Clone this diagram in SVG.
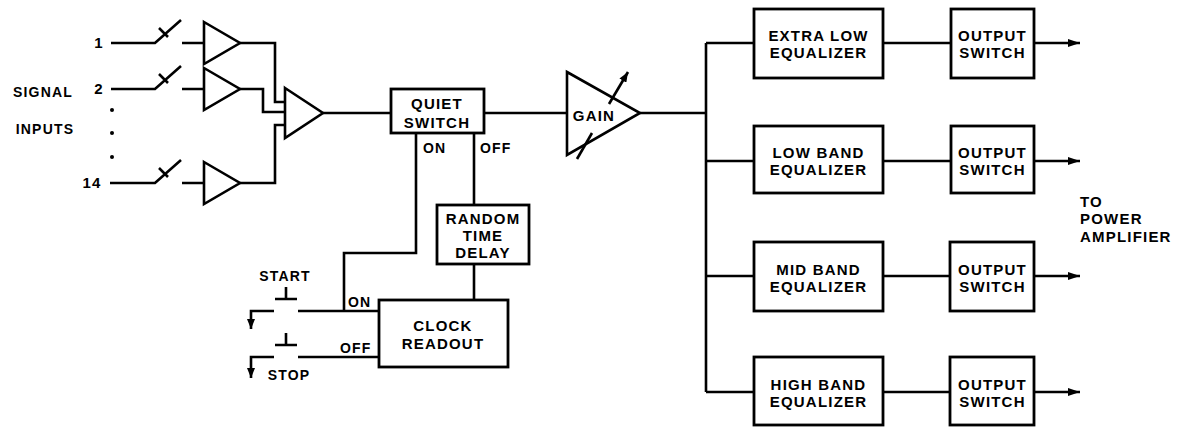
<svg xmlns="http://www.w3.org/2000/svg" width="1192" height="428" viewBox="0 0 1192 428">
<style>
.ln{fill:none;stroke:#000;stroke-width:2.6;stroke-linejoin:miter;stroke-linecap:butt}
.bx{fill:#fff;stroke:#000;stroke-width:2.8}
.tri{fill:#fff;stroke:#000;stroke-width:2.6;stroke-linejoin:miter}
text{font-family:"Liberation Sans",Arial,sans-serif;font-weight:bold;font-size:15px;letter-spacing:1.2px;fill:#000}
.m{text-anchor:middle}
.lbl{font-size:14px}
</style>
<defs>
<marker id="ah" viewBox="0 0 12 8" refX="12" refY="4" markerWidth="12" markerHeight="8" markerUnits="userSpaceOnUse" orient="auto">
<path d="M0,0 L12,4 L0,8 Z" fill="#000"/>
</marker>
<marker id="ahs" viewBox="0 0 10 8" refX="10" refY="4" markerWidth="10" markerHeight="8" markerUnits="userSpaceOnUse" orient="auto">
<path d="M0,0 L10,4 L0,8 Z" fill="#000"/>
</marker>
</defs>
<rect width="1192" height="428" fill="#fff"/>

<g id="connectors">
<path class="ln" d="M111,43 H155 L181,20 M159,28 L168,37 M182,43 H204"/>
<path class="ln" d="M111,89 H155 L181,66 M159,74 L168,83 M182,89 H204"/>
<path class="ln" d="M110,183 H155 L181,160 M159,168 L168,177 M182,183 H204"/>
<path class="ln" d="M240,43 H275 V102 H285"/>
<path class="ln" d="M240,89 H263 V112 H285"/>
<path class="ln" d="M240,183 H275 V125 H285"/>
<path class="ln" d="M323,113 H391"/>
<path class="ln" d="M484,113 H567"/>
<path class="ln" d="M640,113 H706"/>
<path class="ln" d="M706,43 V392"/>
<path class="ln" d="M706,43 H754 M706,161 H754 M706,276 H754 M706,392 H754"/>
<path class="ln" d="M883,43 H951 M883,161 H951 M883,276 H951 M883,392 H951"/>
<path class="ln" marker-end="url(#ah)" d="M1034,43 H1080"/>
<path class="ln" marker-end="url(#ah)" d="M1034,161 H1080"/>
<path class="ln" marker-end="url(#ah)" d="M1034,276 H1080"/>
<path class="ln" marker-end="url(#ah)" d="M1034,392 H1080"/>
<path class="ln" d="M416,133 V253 H344 V311"/>
<path class="ln" d="M474,133 V205"/>
<path class="ln" d="M474,264 V300"/>
<path class="ln" d="M298,311 H379"/>
<path class="ln" d="M298,357 H379"/>
<path class="ln" d="M274,311 H251 V329" marker-end="url(#ahs)"/>
<path class="ln" d="M274,357 H251 V378" marker-end="url(#ahs)"/>
<path class="ln" d="M286,287 V299 M275,299 H297"/>
<path class="ln" d="M286,333 V345 M275,345 H297"/>
</g>

<g id="signal-inputs">
<text class="lbl m" x="43" y="97">SIGNAL</text>
<text class="lbl m" x="45" y="134">INPUTS</text>
<text class="m" x="99" y="48">1</text>
<text class="m" x="99" y="94">2</text>
<text class="m" x="92" y="188">14</text>
<circle cx="112" cy="110" r="2" fill="#000"/>
<circle cx="112" cy="133" r="2" fill="#000"/>
<circle cx="112" cy="157" r="2" fill="#000"/>
</g>

<g id="amp1"><path class="tri" d="M204,22 L240,43 L204,64 Z"/></g>
<g id="amp2"><path class="tri" d="M204,68 L240,89 L204,110 Z"/></g>
<g id="amp14"><path class="tri" d="M204,162 L240,183 L204,204 Z"/></g>
<g id="mixer"><path class="tri" d="M285,88 L323,113 L285,138 Z"/></g>

<g id="quiet-switch">
<rect class="bx" x="391" y="89" width="93" height="44"/>
<text class="m" x="437" y="108.5">QUIET</text>
<text class="m" x="437" y="127.5">SWITCH</text>
<text class="lbl" x="423" y="152.5">ON</text>
<text class="lbl" x="480" y="152.5">OFF</text>
</g>

<g id="gain">
<path class="tri" d="M567,72 L640,113 L567,155 Z"/>
<text class="m" x="594" y="120.5">GAIN</text>
<path class="ln" d="M577,159 L592,133"/>
<path class="ln" d="M609,104 L628,72" marker-end="url(#ahs)"/>
</g>

<g id="random-time-delay">
<rect class="bx" x="437" y="205" width="92" height="59"/>
<text class="m" x="483" y="223.5">RANDOM</text>
<text class="m" x="483" y="240.5">TIME</text>
<text class="m" x="483" y="257.5">DELAY</text>
</g>

<g id="clock-readout">
<rect class="bx" x="379" y="300" width="129" height="67"/>
<text class="m" x="443" y="331">CLOCK</text>
<text class="m" x="443" y="348.5">READOUT</text>
<text class="lbl" x="348" y="306.5">ON</text>
<text class="lbl" x="340" y="353">OFF</text>
</g>

<g id="start-stop">
<text class="lbl m" x="285" y="281">START</text>
<text class="lbl m" x="289" y="379.5">STOP</text>
</g>

<g id="eq-extra-low">
<rect class="bx" x="754" y="9" width="129" height="69"/>
<text class="m" x="818.5" y="40.5">EXTRA LOW</text>
<text class="m" x="818.5" y="58">EQUALIZER</text>
</g>
<g id="eq-low">
<rect class="bx" x="754" y="126" width="129" height="67"/>
<text class="m" x="818.5" y="158">LOW BAND</text>
<text class="m" x="818.5" y="175">EQUALIZER</text>
</g>
<g id="eq-mid">
<rect class="bx" x="754" y="242" width="129" height="69"/>
<text class="m" x="818.5" y="274.5">MID BAND</text>
<text class="m" x="818.5" y="291.5">EQUALIZER</text>
</g>
<g id="eq-high">
<rect class="bx" x="754" y="357" width="129" height="68"/>
<text class="m" x="818.5" y="390">HIGH BAND</text>
<text class="m" x="818.5" y="407">EQUALIZER</text>
</g>

<g id="out-sw-1">
<rect class="bx" x="951" y="9" width="83" height="69"/>
<text class="m" x="992.5" y="40.5">OUTPUT</text>
<text class="m" x="992.5" y="58">SWITCH</text>
</g>
<g id="out-sw-2">
<rect class="bx" x="951" y="126" width="83" height="67"/>
<text class="m" x="992.5" y="158">OUTPUT</text>
<text class="m" x="992.5" y="175">SWITCH</text>
</g>
<g id="out-sw-3">
<rect class="bx" x="950" y="242" width="84" height="69"/>
<text class="m" x="992.5" y="274.5">OUTPUT</text>
<text class="m" x="992.5" y="291.5">SWITCH</text>
</g>
<g id="out-sw-4">
<rect class="bx" x="950" y="357" width="84" height="68"/>
<text class="m" x="992.5" y="390">OUTPUT</text>
<text class="m" x="992.5" y="407">SWITCH</text>
</g>

<g id="to-power-amplifier">
<text x="1080" y="206.5">TO</text>
<text x="1080" y="224">POWER</text>
<text x="1080" y="241.5">AMPLIFIER</text>
</g>
</svg>
